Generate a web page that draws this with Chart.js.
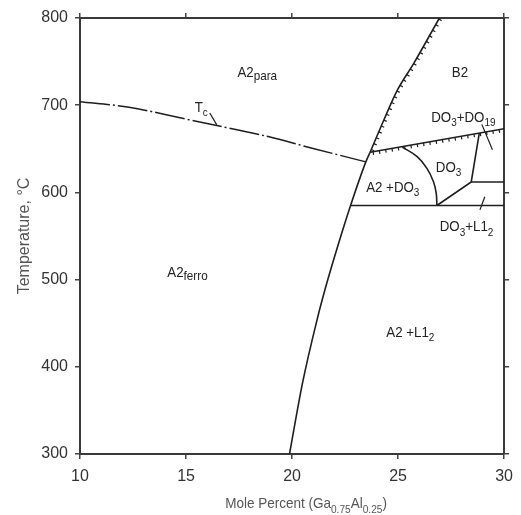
<!DOCTYPE html>
<html lang="en">
<head>
<meta charset="UTF-8">
<title>Phase diagram</title>
<script src="https://cdn.jsdelivr.net/npm/chart.js"></script>
<style>
  html, body { margin: 0; padding: 0; background: #fff; }
  #wrap { width: 521px; height: 515px; }
</style>
</head>
<body>
<div id="wrap"><canvas id="phase" width="521" height="515"></canvas></div>
<script>
// composition (mole percent Ga0.75Al0.25) and temperature (°C)
const xTicks = [10, 15, 20, 25, 30];
const yTicks = [300, 400, 500, 600, 700, 800];

const a2BoundX = [19.88, 20.49, 21.19, 21.64, 22.15, 22.76, 23.48, 23.68];
const a2BoundT = [300, 381, 455, 496, 538, 585, 635, 646];
const b2BoundX = [23.68, 24.33, 24.96, 25.74, 26.95];
const b2BoundT = [646, 683, 717, 748, 800];
const tcX = [10, 12.31, 15.59, 18.87, 20.9, 23.48];
const tcT = [704, 697.6, 681, 664, 651, 635];
const do3TopX = [23.68, 30];
const do3TopT = [646, 673];
const domeX = [25.2, 25.9, 26.36, 26.67, 26.8, 26.83];
const domeT = [652, 641, 627.6, 612.3, 599, 585];
const eutX = [22.76, 30];
const eutT = [585, 585];
const do3RightX = [26.83, 28.45, 28.83];
const do3RightT = [585, 612, 668];
const l12X = [28.45, 30];
const l12T = [612, 612];
const lead19X = [28.95, 29.45];
const lead19T = [678, 649];
const leadL12X = [29.09, 28.86];
const leadL12T = [595, 580];
const leadTcX = [16.12, 16.45];
const leadTcT = [691, 677.5];

// region labels: position (x, T) and text parts [text, 0 normal | 1 subscript | 2 phase suffix]
const labelX = [18.36, 27.92, 28.08, 27.38, 24.75, 28.23, 25.58, 15.07, 15.72];
const labelT = [738, 738, 687, 629, 606, 561, 440, 509, 698];
const labelParts = [
  [['A2', 0], ['para', 2]],
  [['B2', 0]],
  [['DO', 0], ['3', 1], ['+DO', 0], ['19', 1]],
  [['DO', 0], ['3', 1]],
  [['A2 +DO', 0], ['3', 1]],
  [['DO', 0], ['3', 1], ['+L1', 0], ['2', 1]],
  [['A2 +L1', 0], ['2', 1]],
  [['A2', 0], ['ferro', 2]],
  [['T', 0], ['c', 1]]
];
const xTitleParts = [['Mole Percent (Ga', 0], ['0.75', 1], ['Al', 0], ['0.25', 1], [')', 0]];

const FONT = '"Liberation Sans", Arial, Helvetica, sans-serif';
const INK = '#1e1e1e';

function line(xs, ts, extra) {
    return Object.assign({
        data: xs.map((x, i) => ({ x: x, y: ts[i] })),
        showLine: true,
        borderColor: INK,
        borderWidth: 1.6,
        pointRadius: 0,
        fill: false,
        tension: 0
    }, extra || {});
}

function partSize(kind, size) {
    return kind === 0 ? size : kind === 1 ? size * 0.75 : size * 0.88;
}

function drawRich(ctx, parts, cx, cy, size, color, sx) {
    sx = sx || 1;
    let w = 0;
    parts.forEach(p => {
        ctx.font = partSize(p[1], size) + 'px ' + FONT;
        w += ctx.measureText(p[0]).width;
    });
    ctx.save();
    ctx.translate(cx - w * sx / 2, cy + size * 0.36);
    ctx.scale(sx, 1);
    ctx.fillStyle = color;
    ctx.textBaseline = 'alphabetic';
    ctx.textAlign = 'left';
    let x = 0;
    parts.forEach(p => {
        const dy = p[1] === 1 ? size * 0.3 : p[1] === 2 ? size * 0.22 : 0;
        ctx.font = partSize(p[1], size) + 'px ' + FONT;
        ctx.fillText(p[0], x, dy);
        x += ctx.measureText(p[0]).width;
    });
    ctx.restore();
}

// small ticks along the ordering lines
const hatchPlugin = {
    id: 'hatch',
    afterDatasetsDraw(chart) {
        const ctx = chart.ctx;
        chart.data.datasets.forEach((ds, i) => {
            if (!ds.hatch) return;
            const pts = chart.getDatasetMeta(i).data;
            const path = [];
            for (let k = 0; k < pts.length - 1; k++) {
                const a = pts[k], b = pts[k + 1];
                const c1x = a.cp2x !== undefined ? a.cp2x : a.x;
                const c1y = a.cp2y !== undefined ? a.cp2y : a.y;
                const c2x = b.cp1x !== undefined ? b.cp1x : b.x;
                const c2y = b.cp1y !== undefined ? b.cp1y : b.y;
                for (let s = 0; s <= 40; s++) {
                    const t = s / 40, u = 1 - t;
                    path.push({
                        x: u*u*u*a.x + 3*u*u*t*c1x + 3*u*t*t*c2x + t*t*t*b.x,
                        y: u*u*u*a.y + 3*u*u*t*c1y + 3*u*t*t*c2y + t*t*t*b.y
                    });
                }
            }
            ctx.save();
            ctx.strokeStyle = INK;
            ctx.lineWidth = 1.2;
            ctx.beginPath();
            let next = 3;
            let run = 0;
            for (let k = 1; k < path.length; k++) {
                const dx = path[k].x - path[k - 1].x, dy = path[k].y - path[k - 1].y;
                const len = Math.hypot(dx, dy);
                if (!len) continue;
                while (run + len >= next) {
                    const f = (next - run) / len;
                    const px = path[k - 1].x + dx * f, py = path[k - 1].y + dy * f;
                    const nx = -dy / len, ny = dx / len;
                    ctx.moveTo(px, py);
                    ctx.lineTo(px + nx * 3.2, py + ny * 3.2);
                    next += 6.4;
                }
                run += len;
            }
            ctx.stroke();
            ctx.restore();
        });
    }
};

const labelPlugin = {
    id: 'labels',
    afterDraw(chart) {
        const ctx = chart.ctx;
        const xs = chart.scales.x, ys = chart.scales.y;
        labelParts.forEach((parts, i) => {
            drawRich(ctx, parts, xs.getPixelForValue(labelX[i]), ys.getPixelForValue(labelT[i]), 14, '#222', 0.95);
        });
        drawRich(ctx, xTitleParts, (xs.left + xs.right) / 2 + 14, xs.bottom - 12, 15, '#555', 0.9);
    }
};

const gridOpts = { drawOnChartArea: false, drawTicks: true, tickLength: 5, color: '#444', lineWidth: 1.5 };
const borderOpts = { color: '#3a3a3a', width: 2 };

new Chart(document.getElementById('phase'), {
    type: 'scatter',
    data: {
        datasets: [
            line(a2BoundX, a2BoundT, { cubicInterpolationMode: 'monotone' }),
            line(b2BoundX, b2BoundT, { cubicInterpolationMode: 'monotone', hatch: true }),
            line(tcX, tcT, { tension: 0.3, borderWidth: 1.5, borderDash: [30, 3, 2, 3] }),
            line(do3TopX, do3TopT, { hatch: true }),
            line(domeX, domeT, { tension: 0.4 }),
            line(eutX, eutT),
            line(do3RightX, do3RightT),
            line(l12X, l12T),
            line(lead19X, lead19T, { borderWidth: 1.2 }),
            line(leadL12X, leadL12T, { borderWidth: 1.2 }),
            line(leadTcX, leadTcT, { borderWidth: 1.2 })
        ]
    },
    options: {
        responsive: false,
        animation: false,
        devicePixelRatio: 1,
        layout: { padding: 0 },
        plugins: { legend: { display: false }, tooltip: { enabled: false } },
        scales: {
            x: {
                type: 'linear', position: 'bottom', min: xTicks[0], max: xTicks[xTicks.length - 1],
                afterBuildTicks: s => { s.ticks = xTicks.map(v => ({ value: v })); },
                ticks: { color: '#333', font: { size: 16, family: FONT }, padding: 8, maxRotation: 0 },
                grid: gridOpts, border: borderOpts,
                afterFit: s => { s.height = 61; }
            },
            x2: {
                type: 'linear', position: 'top', min: xTicks[0], max: xTicks[xTicks.length - 1],
                afterBuildTicks: s => { s.ticks = xTicks.map(v => ({ value: v })); },
                ticks: { display: false },
                grid: gridOpts, border: borderOpts,
                afterFit: s => { s.height = 18; }
            },
            y: {
                type: 'linear', position: 'left', min: yTicks[0], max: yTicks[yTicks.length - 1],
                afterBuildTicks: s => { s.ticks = yTicks.map(v => ({ value: v })); },
                ticks: { color: '#333', font: { size: 16, family: FONT }, padding: 7 },
                title: { display: true, text: 'Temperature, °C', color: '#555', font: { size: 16, family: FONT }, padding: { top: 15 } },
                grid: gridOpts, border: borderOpts,
                afterFit: s => { s.width = 80; }
            },
            y2: {
                type: 'linear', position: 'right', min: yTicks[0], max: yTicks[yTicks.length - 1],
                afterBuildTicks: s => { s.ticks = yTicks.map(v => ({ value: v })); },
                ticks: { display: false },
                grid: gridOpts, border: borderOpts,
                afterFit: s => { s.width = 13; }
            }
        }
    },
    plugins: [hatchPlugin, labelPlugin]
});
</script>
</body>
</html>
